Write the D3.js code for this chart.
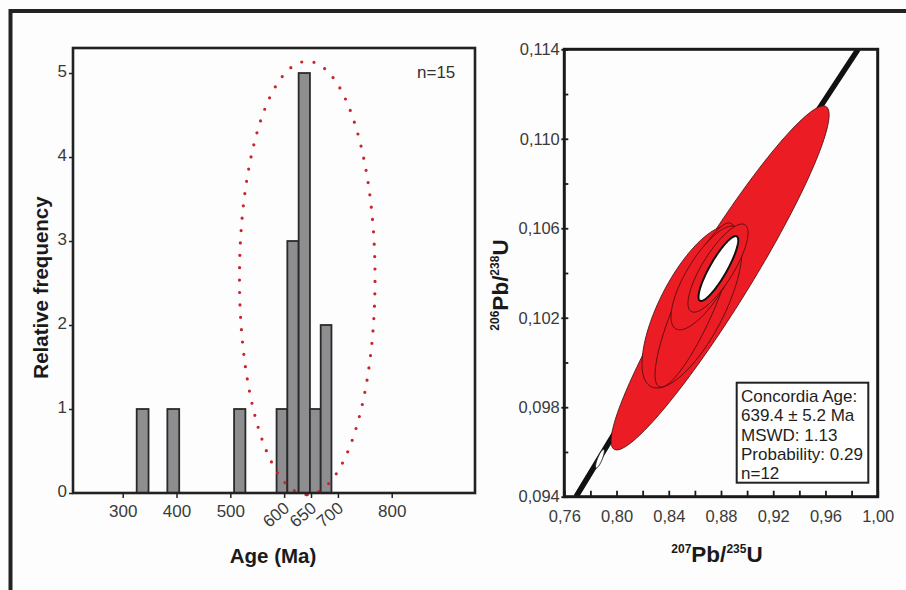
<!DOCTYPE html>
<html>
<head>
<meta charset="utf-8">
<script src="https://cdn.jsdelivr.net/npm/d3@7"></script>
<style>
  html, body { margin: 0; padding: 0; background: #fdfdfd; }
  svg { display: block; font-family: 'Liberation Sans', Arial, sans-serif; }
</style>
</head>
<body>
<div id="vis"></div>
<script>
// histogram bins (Ma) and counts
var binLo = [326, 383, 507, 586, 606, 627, 648, 668];
var binHi = [348, 405, 528, 606, 627, 648, 668, 688];
var binCount = [1, 1, 1, 1, 3, 5, 1, 2];
var ageTicks = [300, 400, 500, 600, 650, 700, 800];
var rotatedTicks = [600, 650, 700];
var freqTicks = [0, 1, 2, 3, 4, 5];
// dotted ellipse round the main peak (age, frequency)
var peakAge = 643;
var peakHalfWidth = 126;
var peakMid = 2.56;
var peakHalfHeight = 2.58;

// concordia plot: error ellipses 207Pb/235U, 206Pb/238U, 2s, correlation
var ellX = [0.8793, 0.8578, 0.8601, 0.8685, 0.8777];
var ellY = [0.10378, 0.10248, 0.10257, 0.10378, 0.10422];
var ellSx = [0.0835, 0.0383, 0.0306, 0.0268, 0.0230];
var ellSy = [0.00769, 0.00362, 0.00367, 0.00232, 0.00197];
var ellRho = [0.948, 0.70, 0.85, 0.75, 0.80];
// concordia age ellipse and the small one on the curve
var ageEll = [0.878, 0.1042, 0.0152, 0.00145, 0.87];
var markEll = [0.7873, 0.0957, 0.0034, 0.00042, 0.82];
var concordia = [[0.769, 0.094], [0.877, 0.10428], [0.985, 0.114]];
var ratioXTicks = [0.76, 0.78, 0.80, 0.82, 0.84, 0.86, 0.88, 0.90, 0.92, 0.94, 0.96, 0.98, 1.00];
var ratioXLabels = [0.76, 0.80, 0.84, 0.88, 0.92, 0.96, 1.00];
var ratioYTicks = [0.094, 0.096, 0.098, 0.100, 0.102, 0.104, 0.106, 0.108, 0.110, 0.112, 0.114];
var ratioYLabels = [0.094, 0.098, 0.102, 0.106, 0.110, 0.114];
var resultLines = ['Concordia Age:', '639.4 \u00b1 5.2 Ma', 'MSWD: 1.13', 'Probability: 0.29', 'n=12'];

var width = 906;
var height = 590;

var svg = d3.select('#vis')
  .append('svg')
  .attr('width', width)
  .attr('height', height);

svg.append('rect')
  .attr('width', width)
  .attr('height', height)
  .attr('fill', '#fdfdfd');

// outer frame, cut by the picture edge
svg.append('rect')
  .attr('x', 10.5)
  .attr('y', 11)
  .attr('width', width + 20)
  .attr('height', height + 20)
  .attr('fill', 'none')
  .attr('stroke', '#222')
  .attr('stroke-width', 4);

function commaFormat(digits) {
  var f = d3.format('.' + digits + 'f');
  return function(d) { return f(d).replace('.', ','); };
}

function ellipsePath(e, sx, sy) {
  var pts = [];
  var k = Math.sqrt(1 - e[4] * e[4]);
  for (var i = 0; i <= 180; i++) {
    var t = (i / 180) * 2 * Math.PI;
    pts.push([
      e[0] + e[2] * Math.cos(t),
      e[1] + e[3] * (e[4] * Math.cos(t) + k * Math.sin(t)),
    ]);
  }
  return d3.line().x(d => sx(d[0])).y(d => sy(d[1]))(pts) + 'Z';
}

// ---------- histogram ----------
var hx = d3.scaleLinear().domain([207.6, 954.8]).range([73, 475]);
var hy = d3.scaleLinear().domain([0, 5.298]).range([493, 48]);
var hist = svg.append('g');

hist.selectAll('rect.bar')
  .data(binCount)
  .enter()
  .append('rect')
  .attr('class', 'bar')
  .attr('x', (d, i) => hx(binLo[i]))
  .attr('width', (d, i) => hx(binHi[i]) - hx(binLo[i]))
  .attr('y', d => hy(d))
  .attr('height', d => hy(0) - hy(d))
  .attr('fill', '#8e8e91')
  .attr('stroke', '#2a2a2a')
  .attr('stroke-width', 1.8);

// dotted peak ellipse
var peakPts = [];
for (var i = 0; i <= 200; i++) {
  var t = -Math.PI / 2 + (i / 200) * 2 * Math.PI;
  peakPts.push([peakAge + peakHalfWidth * Math.cos(t), peakMid + peakHalfHeight * Math.sin(t)]);
}
hist.append('path')
  .attr('d', d3.line().x(d => hx(d[0])).y(d => hy(d[1]))(peakPts))
  .attr('fill', 'none')
  .attr('stroke', '#c8242b')
  .attr('stroke-width', 3.2)
  .attr('stroke-linecap', 'round')
  .attr('stroke-dasharray', '0 12.4');

hist.append('rect')
  .attr('x', 73)
  .attr('y', 48)
  .attr('width', 402)
  .attr('height', 445)
  .attr('fill', 'none')
  .attr('stroke', '#222')
  .attr('stroke-width', 2.6);

var hxAxis = hist.append('g')
  .attr('transform', 'translate(0,493)')
  .call(d3.axisBottom(hx).tickValues(ageTicks).tickSize(5).tickPadding(6.5).tickFormat(d3.format('d')));
hxAxis.selectAll('text')
  .filter(d => rotatedTicks.indexOf(d) >= 0)
  .attr('text-anchor', 'end')
  .attr('y', 0)
  .attr('dy', 0)
  .attr('transform', 'translate(6,17) rotate(-40)');

var hyAxis = hist.append('g')
  .attr('transform', 'translate(73,0)')
  .call(d3.axisLeft(hy).tickValues(freqTicks).tickSize(4).tickPadding(2).tickFormat(d3.format('d')));
hyAxis.selectAll('text').attr('dy', '0.22em');

[hxAxis, hyAxis].forEach(function(ax) {
  ax.select('.domain').remove();
  ax.selectAll('line').attr('stroke', '#222').attr('stroke-width', 1.5);
  ax.selectAll('text')
    .attr('fill', '#3a3a3a')
    .style('font-size', '17px')
    .style('font-family', "'Liberation Sans', Arial, sans-serif");
});

hist.append('text')
  .attr('x', 417)
  .attr('y', 78)
  .attr('fill', '#333')
  .style('font-size', '17px')
  .text('n=15');

hist.append('text')
  .attr('transform', 'translate(48,287.5) rotate(-90)')
  .attr('text-anchor', 'middle')
  .attr('fill', '#1a1a1a')
  .style('font-size', '20.5px')
  .style('font-weight', 'bold')
  .text('Relative frequency');

hist.append('text')
  .attr('x', 273)
  .attr('y', 563)
  .attr('text-anchor', 'middle')
  .attr('fill', '#1a1a1a')
  .style('font-size', '20.5px')
  .style('font-weight', 'bold')
  .text('Age (Ma)');

// ---------- concordia diagram ----------
var cx = d3.scaleLinear().domain([0.76, 1.0]).range([564.3, 877.7]);
var cy = d3.scaleLinear().domain([0.094, 0.114]).range([496.7, 49.3]);
var conc = svg.append('g');

conc.append('clipPath')
  .attr('id', 'plot-clip')
  .append('rect')
  .attr('x', 564.3)
  .attr('y', 49.3)
  .attr('width', 313.4)
  .attr('height', 447.4);

var inner = conc.append('g').attr('clip-path', 'url(#plot-clip)');

inner.append('path')
  .attr('d', d3.line().x(d => cx(d[0])).y(d => cy(d[1])).curve(d3.curveNatural)(concordia))
  .attr('fill', 'none')
  .attr('stroke', '#111')
  .attr('stroke-width', 5.5);

inner.selectAll('path.ell')
  .data(ellX)
  .enter()
  .append('path')
  .attr('class', 'ell')
  .attr('d', (d, i) => ellipsePath([ellX[i], ellY[i], ellSx[i], ellSy[i], ellRho[i]], cx, cy))
  .attr('fill', '#ec1c24')
  .attr('stroke', '#3d0c0c')
  .attr('stroke-width', 0.8);

inner.append('path')
  .attr('d', ellipsePath(ageEll, cx, cy))
  .attr('fill', '#fff')
  .attr('stroke', '#111')
  .attr('stroke-width', 2);

inner.append('path')
  .attr('d', ellipsePath(markEll, cx, cy))
  .attr('fill', '#fff')
  .attr('stroke', '#111')
  .attr('stroke-width', 1);

conc.append('rect')
  .attr('x', 564.3)
  .attr('y', 49.3)
  .attr('width', 313.4)
  .attr('height', 447.4)
  .attr('fill', 'none')
  .attr('stroke', '#1a1a1a')
  .attr('stroke-width', 3);

// minor ticks pointing inwards, labels on the major ones
var cxMinor = conc.append('g')
  .attr('transform', 'translate(0,496.7)')
  .call(d3.axisBottom(cx).tickValues(ratioXTicks).tickSize(-6).tickFormat(''));
var cxAxis = conc.append('g')
  .attr('transform', 'translate(0,496.7)')
  .call(d3.axisBottom(cx).tickValues(ratioXLabels).tickSize(0).tickPadding(13.3).tickFormat(commaFormat(2)));
var cyMinor = conc.append('g')
  .attr('transform', 'translate(564.3,0)')
  .call(d3.axisLeft(cy).tickValues(ratioYTicks).tickSize(-4).tickFormat(''));
var cyAxis = conc.append('g')
  .attr('transform', 'translate(564.3,0)')
  .call(d3.axisLeft(cy).tickValues(ratioYLabels).tickSize(3).tickPadding(1.5).tickFormat(commaFormat(3)));

[cxMinor, cxAxis, cyMinor, cyAxis].forEach(function(ax) {
  ax.select('.domain').remove();
  ax.selectAll('line').attr('stroke', '#1a1a1a').attr('stroke-width', 1.8);
  ax.selectAll('text')
    .attr('fill', '#3a3a3a')
    .style('font-size', '16.5px')
    .style('font-family', "'Liberation Sans', Arial, sans-serif");
});

// results box
var box = conc.append('g');
box.append('rect')
  .attr('x', 736.7)
  .attr('y', 382.7)
  .attr('width', 131.6)
  .attr('height', 100)
  .attr('fill', '#fff')
  .attr('stroke', '#222')
  .attr('stroke-width', 2);
box.append('clipPath')
  .attr('id', 'box-clip')
  .append('rect')
  .attr('x', 736.7)
  .attr('y', 382.7)
  .attr('width', 131.6)
  .attr('height', 99);
box.append('g')
  .attr('clip-path', 'url(#box-clip)')
  .selectAll('text')
  .data(resultLines)
  .enter()
  .append('text')
  .attr('x', 741)
  .attr('y', (d, i) => 401.7 + i * 19.4)
  .attr('fill', '#1e1e1e')
  .style('font-size', '17px')
  .text(d => d);

function isotopeLabel(sel, a, b, c, d) {
  sel.append('tspan').attr('dy', -9).style('font-size', '12px').text(a);
  sel.append('tspan').attr('dy', 9).text(b);
  sel.append('tspan').attr('dy', -9).style('font-size', '12px').text(c);
  sel.append('tspan').attr('dy', 9).text(d);
}

var yTitle = conc.append('text')
  .attr('transform', 'translate(508,285) rotate(-90)')
  .attr('text-anchor', 'middle')
  .attr('fill', '#1a1a1a')
  .style('font-size', '22.5px')
  .style('font-weight', 'bold');
isotopeLabel(yTitle, '206', 'Pb/', '238', 'U');

var xTitle = conc.append('text')
  .attr('x', 717)
  .attr('y', 562)
  .attr('text-anchor', 'middle')
  .attr('fill', '#1a1a1a')
  .style('font-size', '22.5px')
  .style('font-weight', 'bold');
isotopeLabel(xTitle, '207', 'Pb/', '235', 'U');
</script>
</body>
</html>
